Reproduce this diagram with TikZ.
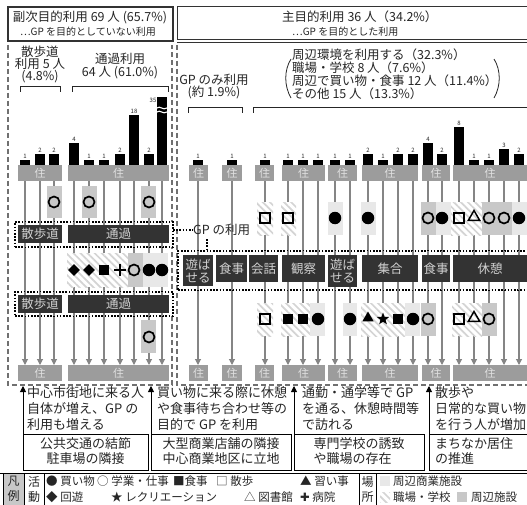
\documentclass[tikz,border=0pt]{standalone}
\usepackage{fontspec}
\setmainfont{Noto Sans CJK JP}
\newfontfamily\djv{DejaVu Sans}
\usetikzlibrary{shapes.geometric,patterns.meta,arrows.meta}
\definecolor{jugray}{HTML}{9C9C9C}
\definecolor{dbox}{HTML}{333333}
\definecolor{lgbg}{HTML}{E8E8E8}
\definecolor{mgbg}{HTML}{C8C8C8}
\definecolor{linec}{HTML}{858585}
\definecolor{txt}{HTML}{262626}
\definecolor{dashc}{HTML}{707070}
\newcommand\mybox[7]{\node[#6,minimum width={(#4-#2)*1pt},minimum height={(#5-#3)*1pt},inner sep=0pt,outer sep=0pt] (#1) at ({(#2+#4)/2},{(#3+#5)/2}) {#7};}
\newcommand\fs[1]{\fontsize{#1}{#1}\selectfont}
\tikzset{
 ju/.style={fill=jugray,text=white!88!black,font=\fs{11}},
 act/.style={fill=dbox,text=white!82!black,font=\fontsize{12.5}{13}\selectfont,align=center},
 lg/.style={fill=lgbg},
 mg/.style={fill=mgbg},
 hatchbox/.style={preaction={fill=white},pattern={Lines[angle=-45,distance=5pt,line width=1.7pt]},pattern color=black!17},
 conn/.style={draw=linec,line width=1.1pt},
 arr/.style={conn,-{Triangle[width=6pt,length=6pt]}},
 dotf/.style={draw=black,line width=1.6pt,dash pattern=on 1.6pt off 1.6pt},
 dashf/.style={draw=dashc,line width=1.2pt,dash pattern=on 5pt off 3pt},
 fdot/.style={circle,fill=black,minimum size=12.5pt,inner sep=0pt},
 odot/.style={circle,draw=black,line width=1.7pt,minimum size=11pt,inner sep=0pt},
 fsq/.style={rectangle,fill=black,minimum size=10.5pt,inner sep=0pt},
 osq/.style={rectangle,draw=black,line width=1.5pt,minimum size=10pt,inner sep=0pt},
 ftri/.style={regular polygon,regular polygon sides=3,fill=black,minimum size=13pt,inner sep=0pt},
 otri/.style={regular polygon,regular polygon sides=3,draw=black,line width=1.5pt,minimum size=13pt,inner sep=0pt},
 fdia/.style={diamond,fill=black,minimum size=12pt,inner sep=0pt},
 fstar/.style={star,star points=5,star point ratio=2.4,fill=black,minimum size=13pt,inner sep=0pt},
 blab/.style={font=\fs{6},inner sep=0pt,text=txt},
 tx/.style={text=txt,inner sep=0pt},
 blk/.style={draw=black,line width=0.9pt},
 uparr/.style={blk,-{Triangle[width=6pt,length=6pt]}},
}
\begin{document}
\begin{tikzpicture}[x=1pt,y=-1pt]
\useasboundingbox (0,0) rectangle (527,505);
\fill[white] (0,0) rectangle (527,505);
% ---------- top frames
\draw[draw=black!80,line width=1.6pt] (8,7) rectangle (173,41);
\node[tx,font=\fs{12.5}] (t1) at (90,17) {副次目的利用 69 人 (65.7\%)};
\node[tx,font=\fs{10}] (t2) at (88,32) {…GP を目的としていない利用};
\draw[draw=black!80,line width=1pt] (527,7) -- (177,7) -- (177,40) -- (527,40);
\draw[draw=black!80,line width=1pt] (177,43) -- (527,43);
\node[tx,font=\fs{12.5},anchor=west] (t3) at (282,17) {主目的利用 36 人（34.2\%）};
\node[tx,font=\fs{10},anchor=west] (t4) at (292,32) {…GP を目的とした利用};
\node[tx,font=\fontsize{12.5}{11}\selectfont,anchor=north west,align=left] (t5) at (292,49) {周辺環境を利用する（32.3\%）\\職場・学校 8 人（7.6\%）\\周辺で買い物・食事 12 人（11.4\%）\\その他 15 人（13.3\%）};
\draw[txt,line width=0.8pt] (291,59) .. controls (284,70) and (284,86) .. (291,98);
\draw[txt,line width=0.8pt] (494,59) .. controls (501,70) and (501,86) .. (494,98);
% group labels
\node[tx,font=\fontsize{12.5}{11.5}\selectfont,align=center] (g1) at (40,64) {散歩道\\利用 5 人\\(4.8\%)};
\node[tx,font=\fontsize{12.5}{11}\selectfont,align=center] (g2) at (120,66) {通過利用\\64 人 (61.0\%)};
\node[tx,font=\fontsize{12.5}{12}\selectfont,align=center] (g3) at (214,87) {GP のみ利用\\(約 1.9\%)};
\draw[txt,line width=0.9pt] (20,92) -- (20,86) -- (60,86) -- (60,92);
\draw[txt,line width=0.9pt] (72,92) -- (72,86) -- (168,86) -- (168,92);
\draw[txt,line width=0.9pt] (188,113) -- (188,107) -- (242,107) -- (242,113);
\draw[txt,line width=0.9pt] (253,113) -- (253,107) -- (527,107);
% dashed regions
\draw[dashf] (8,45) -- (8,385) -- (172,385) -- (172,45);
\draw[dashf] (177,45) -- (177,385) -- (527,385);
% ---------- bars
\foreach \x/\h/\n in {25/5/1,40/11/2,54/11/2,74/22/4,89/5/1,104/5/1,120/11/2,134/50/18,149/11/2,
  198/5/1,232/5/1,265/5/1,288/5/1,303/5/1,318/5/1,335/5/1,350/5/1,368/11/2,383/5/1,398/11/2,413/11/2,428/22/4,442/11/2,459/38/8,474/5/1,489/5/1,504/16/3,519/11/2}{
  \fill[black] (\x-5,165) rectangle (\x+5,165-\h);
  \node[blab] (bl\x) at (\x,165-\h-4) {\n};
}
\fill[black] (157,165) rectangle (167,97);
\draw[white,line width=1.1pt] (157,108) .. controls (160,105) and (163,111) .. (167,108);
\draw[white,line width=1.1pt] (157,112) .. controls (160,109) and (163,115) .. (167,112);
\node[blab] (bl162) at (153,100) {35};
% ---------- vertical connectors
\foreach \x [count=\i] in {25,40,54,74,89,104,120,134,149,162,198,232,265,288,303,318,335,350,368,383,398,413,428,442,459,474,489,504,519}{
  \coordinate (ct\i) at (\x,181);
  \coordinate (cb\i) at (\x,365);
  \draw[arr] (ct\i) -- (cb\i);
}
% ---------- 住 boxes
\foreach \a/\b [count=\i] in {18/62,68/169,189/208,222/242,255/274,282/325,328/357,362/418,422/450,453/527}{
  \mybox{jt\i}{\a}{165}{\b}{181}{ju}{住}
  \mybox{jb\i}{\a}{365}{\b}{381}{ju}{住}
}
% ---------- symbol backgrounds
\mybox{r1}{47}{186}{62}{218}{mg}{}
\mybox{r2}{82}{186}{97}{218}{mg}{}
\mybox{r3}{141}{186}{156}{218}{mg}{}
\mybox{r4}{67}{253}{128}{287}{hatchbox}{}
\mybox{r5}{128}{253}{143}{287}{mg}{}
\mybox{r6}{143}{253}{168}{287}{lg}{}
\mybox{r7}{141}{320}{156}{353}{mg}{}
\mybox{s1}{257}{202}{273}{235}{hatchbox}{}
\mybox{s2}{281}{202}{296}{235}{hatchbox}{}
\mybox{s3}{328}{202}{343}{235}{lg}{}
\mybox{s4}{361}{202}{376}{235}{lg}{}
\mybox{s5}{421}{202}{436}{235}{mg}{}
\mybox{s6}{436}{202}{451}{235}{lg}{}
\mybox{s7}{451}{202}{482}{235}{hatchbox}{}
\mybox{s8}{482}{202}{512}{235}{mg}{}
\mybox{s9}{512}{202}{527}{235}{lg}{}
\mybox{u1}{257}{303}{273}{336}{hatchbox}{}
\mybox{u2}{281}{303}{310}{336}{hatchbox}{}
\mybox{u3}{310}{303}{325}{336}{lg}{}
\mybox{u4}{343}{303}{357}{336}{lg}{}
\mybox{u5}{361}{303}{405}{336}{hatchbox}{}
\mybox{u6}{405}{303}{420}{336}{lg}{}
\mybox{u7}{421}{303}{436}{336}{mg}{}
\mybox{u8}{452}{303}{482}{336}{hatchbox}{}
\mybox{u9}{482}{303}{497}{336}{mg}{}
% ---------- dotted frames and activity boxes
\mybox{fa}{15}{222}{173}{247}{fill=white,dotf}{}
\mybox{fb}{15}{292}{173}{316}{fill=white,dotf}{}
\mybox{fc}{178}{251}{532}{290}{fill=white,dotf}{}
\foreach \x in {25,40,54,74,89,104,120,134,149,162}{
  \draw[conn] (\x,222) -- (\x,247);
  \draw[conn] (\x,292) -- (\x,316);
}
\foreach \x in {198,232,265,288,303,318,335,350,368,383,398,413,428,442,459,474,489,504,519}{
  \draw[conn] (\x,251) -- (\x,290);
}
\mybox{a1}{18}{225}{62}{243}{act}{散歩道}
\mybox{a2}{68}{225}{169}{243}{act}{通過}
\mybox{a3}{18}{295}{62}{313}{act}{散歩道}
\mybox{a4}{68}{295}{169}{313}{act}{通過}
\mybox{b1}{183}{255}{213}{286}{act}{遊ば\\せる}
\mybox{b2}{216}{255}{247}{282}{act}{食事}
\mybox{b3}{249}{255}{278}{282}{act}{会話}
\mybox{b4}{282}{255}{325}{282}{act}{観察}
\mybox{b5}{328}{255}{357}{287}{act}{遊ば\\せる}
\mybox{b6}{362}{255}{418}{282}{act}{集合}
\mybox{b7}{422}{255}{450}{282}{act}{食事}
\mybox{b8}{453}{255}{527}{282}{act}{休憩}
% GP の利用 link
\node[tx,font=\fs{12.5},anchor=west] (gp) at (193,230) {GP の利用};
\draw[dotf] (fa.east |- gp.west) -- (gp.west);
\coordinate (gpd) at (207,239);
\draw[dotf] (gpd) -- (gpd |- fc.north);
% ---------- symbols
\node[odot] (y1) at (54,202) {};
\node[odot] (y2) at (89,202) {};
\node[odot] (y3) at (149,202) {};
\node[fdia] (y4) at (74,270) {};
\node[fdia] (y5) at (89,270) {};
\node[fsq] (y6) at (104,270) {};
\coordinate (y7) at (120,270);
\draw[black,line width=2.6pt] ([xshift=-6pt]y7) -- ([xshift=6pt]y7) ([yshift=-6pt]y7) -- ([yshift=6pt]y7);
\node[odot] (y8) at (134,270) {};
\node[fdot] (y9) at (149,270) {};
\node[fdot] (y10) at (162,270) {};
\node[odot] (y11) at (149,337) {};
\node[osq] (z1) at (265,218) {};
\node[osq] (z2) at (288,218) {};
\node[fdot] (z3) at (335,218) {};
\node[fdot] (z4) at (368,218) {};
\node[odot] (z5) at (428,218) {};
\node[fdot] (z6) at (442,218) {};
\node[osq] (z7) at (459,218) {};
\node[otri] (z8) at (474,217) {};
\node[odot] (z9) at (489,218) {};
\node[odot] (z10) at (504,218) {};
\node[fdot] (z11) at (519,218) {};
\node[osq] (w1) at (265,319) {};
\node[fsq] (w2) at (288,319) {};
\node[fsq] (w3) at (303,319) {};
\node[fdot] (w4) at (318,319) {};
\node[fdot] (w5) at (350,319) {};
\node[ftri] (w6) at (368,318) {};
\node[fstar] (w7) at (383,319) {};
\node[fsq] (w8) at (398,319) {};
\node[fdot] (w9) at (413,319) {};
\node[odot] (w10) at (428,319) {};
\node[osq] (w11) at (459,319) {};
\node[otri] (w12) at (474,318) {};
\node[odot] (w13) at (489,319) {};
% ---------- explanation blocks
\tikzset{btx/.style={tx,font=\fontsize{13}{16}\selectfont,align=left,anchor=north west}}
\coordinate (k1) at (23,470); \coordinate (k1t) at (23,386);
\coordinate (k2) at (151,470); \coordinate (k2t) at (151,386);
\coordinate (k3) at (294,470); \coordinate (k3t) at (294,386);
\coordinate (k4) at (429,470); \coordinate (k4t) at (429,386);
\draw[uparr] (k1) -- (k1t);
\draw[uparr] (k2) -- (k2t);
\draw[uparr] (k3) -- (k3t);
\draw[uparr] (k4) -- (k4t);
\node[btx] (e1) at (27,386) {中心市街地に来る人\\自体が増え、GP の\\利用も増える};
\node[btx] (e2) at (157,386) {買い物に来る際に休憩\\や食事待ち合わせ等の\\目的で GP を利用};
\node[btx] (e3) at (302,386) {通勤・通学等で GP\\を通る、休憩時間等\\で訪れる};
\node[btx] (e4) at (435,386) {散歩や\\日常的な買い物\\を行う人が増加};
\draw[blk] (23,434) -- (148,434) -- (148,470) -- (23,470);
\draw[blk] (151,434) -- (291,434) -- (291,470) -- (151,470);
\draw[blk] (294,434) -- (424,434) -- (424,470) -- (294,470);
\draw[blk] (429,434) -- (527,434) (429,470) -- (527,470);
\tikzset{bxt/.style={tx,font=\fontsize{13}{15}\selectfont,align=left}}
\node[bxt,align=center] (f1) at (85.5,451) {公共交通の結節\\駐車場の隣接};
\node[bxt] (f2) at (221,451) {大型商業店舗の隣接\\中心商業地区に立地};
\node[bxt] (f3) at (359,451) {専門学校の誘致\\や職場の存在};
\node[bxt,anchor=west] (f4) at (435,451) {まちなか居住\\の推進};
% ---------- legend
\tikzset{lgt/.style={tx,font=\fs{11.5},anchor=west}}
\draw[blk] (0,473) -- (527,473);
\mybox{L1}{3}{473}{24}{505}{draw=black,line width=0.9pt,fill=mgbg,text=txt,font=\fontsize{12}{15}\selectfont,align=center}{凡\\例}
\mybox{L2}{24}{473}{44}{505}{draw=black,line width=0.9pt,text=txt,font=\fontsize{12}{15}\selectfont,align=center}{活\\動}
\node[lgt] (m1) at (46,481) {● 買い物};
\node[lgt] (m2) at (97,481) {○ 学業・仕事};
\node[lgt] (m3) at (173,481) {■食事};
\node[lgt] (m4) at (216,481) {□ 散歩};
\node[lgt] (m5) at (300,481) {▲ 習い事};
\node[lgt] (n1) at (46,497) {◆ 回遊};
\node[lgt] (n2) at (111,497) {★ レクリエーション};
\node[lgt] (n3) at (244,497) {△ 図書館};
\node[lgt] (n4) at (300,497) {{\djv ✚} 病院};
\mybox{L3}{359}{473}{376}{505}{draw=black,line width=0.9pt,text=txt,font=\fontsize{12}{15}\selectfont,align=center}{場\\所}
\mybox{q1}{380}{476}{390}{486}{lg}{}
\mybox{q2}{380}{492}{390}{502}{hatchbox}{}
\mybox{q3}{457}{492}{467}{502}{mg}{}
\node[lgt] (p1) at (393,481) {周辺商業施設};
\node[lgt] (p2) at (393,497) {職場・学校};
\node[lgt] (p3) at (471,497) {周辺施設};
\end{tikzpicture}
\end{document}
